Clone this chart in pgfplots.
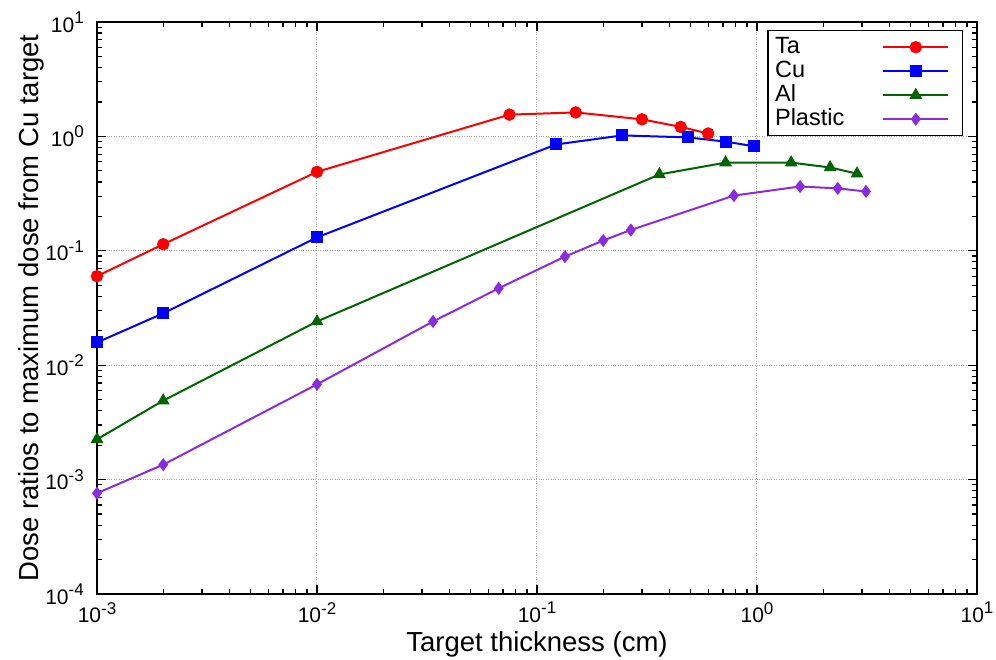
\documentclass[border=0pt]{standalone}
\usepackage{fontspec}
\setmainfont{Liberation Sans}
\usepackage{pgfplots}
\pgfplotsset{compat=1.18}
\definecolor{cTa}{RGB}{255,0,0}
\definecolor{cCu}{RGB}{0,0,255}
\definecolor{cAl}{RGB}{0,100,0}
\definecolor{cPl}{RGB}{138,43,226}
\newcommand{\supx}[1]{\raisebox{0.42em}{\fontsize{17}{17}\selectfont #1}}
\begin{document}
\begin{tikzpicture}[x=1pt,y=1pt]
\begin{axis}[
  at={(97pt,66pt)}, anchor=south west,
  scale only axis, width=880pt, height=572pt,
  xmode=log, ymode=log,
  xmin=1e-3, xmax=1e1, ymin=1e-4, ymax=1e1,
  xtick={1e-3,1e-2,1e-1,1e0,1e1},
  xticklabels={10\supx{-3},10\supx{-2},10\supx{-1},10\supx{0},10\supx{1}},
  ytick={1e-4,1e-3,1e-2,1e-1,1e0,1e1},
  yticklabels={10\supx{-4},10\supx{-3},10\supx{-2},10\supx{-1},10\supx{0},10\supx{1}},
  minor xtick={0.002,0.003,0.004,0.005,0.006,0.007,0.008,0.009,0.02,0.03,0.04,0.05,0.06,0.07,0.08,0.09,0.2,0.3,0.4,0.5,0.6,0.7,0.8,0.9,2,3,4,5,6,7,8,9},
  minor ytick={0.0002,0.0003,0.0004,0.0005,0.0006,0.0007,0.0008,0.0009,0.002,0.003,0.004,0.005,0.006,0.007,0.008,0.009,0.02,0.03,0.04,0.05,0.06,0.07,0.08,0.09,0.2,0.3,0.4,0.5,0.6,0.7,0.8,0.9,2,3,4,5,6,7,8,9},
  tick align=inside, tick pos=both,
  major tick length=9pt, minor tick length=5pt,
  every tick/.style={black, line width=1.2pt},
  axis line style={line width=1.6pt},
  grid=major,
  major grid style={dotted, gray!70, line width=1pt},
  tick label style={font=\fontsize{21}{21}\selectfont},
  xticklabel style={inner sep=0pt, anchor=north, yshift=-8pt},
  yticklabel style={inner sep=0pt, anchor=east, xshift=-13pt},
  xlabel={Target thickness (cm)},
  ylabel={Dose ratios to maximum dose from Cu target},
  label style={font=\fontsize{27.5}{27.5}\selectfont},
  xlabel style={at={(axis description cs:0.5,-0.1014)}, anchor=base},
  ylabel style={at={(axis description cs:-0.067,0.5)}, anchor=base},
  legend plot pos=right,
  legend cell align=left,
  legend image code/.code={\draw[mark repeat=2,mark phase=2] plot coordinates {(0pt,0pt) (32.5pt,0pt) (65pt,0pt)}; \path (72pt,0pt);},
  legend style={at={(rel axis cs:1,1)}, anchor=north east, xshift=-14pt, yshift=-8pt,
    draw=black, line width=1.4pt, fill=white,
    font=\fontsize{23.5}{23.5}\selectfont,
    nodes={inner sep=1pt, text height=17pt, text depth=5pt},
    row sep=0pt, inner xsep=6pt, inner ysep=4.5pt,
    /tikz/every odd column/.append style={column sep=37pt}},
]
\addplot[cTa, line width=2pt, mark=*, mark size=5.2pt, mark options={solid}] coordinates {
(0.001,0.06) (0.002,0.114) (0.01,0.49) (0.075,1.55) (0.15,1.62) (0.3,1.41) (0.45,1.21) (0.6,1.06)};
\addlegendentry{Ta}
\addplot[cCu, line width=2pt, mark=square*, mark size=5pt] coordinates {
(0.001,0.0158) (0.002,0.0284) (0.01,0.131) (0.122,0.85) (0.244,1.02) (0.486,0.98) (0.72,0.90) (0.97,0.82)};
\addlegendentry{Cu}
\addplot[cAl, line width=2pt, mark=triangle*, mark size=5.5pt] coordinates {
(0.001,0.00225) (0.002,0.0049) (0.01,0.0241) (0.36,0.465) (0.72,0.59) (1.43,0.59) (2.15,0.535) (2.85,0.472)};
\addlegendentry{Al}
\addplot[cPl, line width=2pt, mark=diamond*, mark size=5pt] coordinates {
(0.001,0.00076) (0.002,0.00135) (0.01,0.0068) (0.0337,0.0241) (0.067,0.047) (0.134,0.089) (0.2,0.123) (0.267,0.152) (0.786,0.304) (1.57,0.365) (2.33,0.351) (3.13,0.33)};
\addlegendentry{Plastic}
\end{axis}
\pgfresetboundingbox
\useasboundingbox (0pt,0pt) rectangle (996pt,660pt);
\end{tikzpicture}
\end{document}
